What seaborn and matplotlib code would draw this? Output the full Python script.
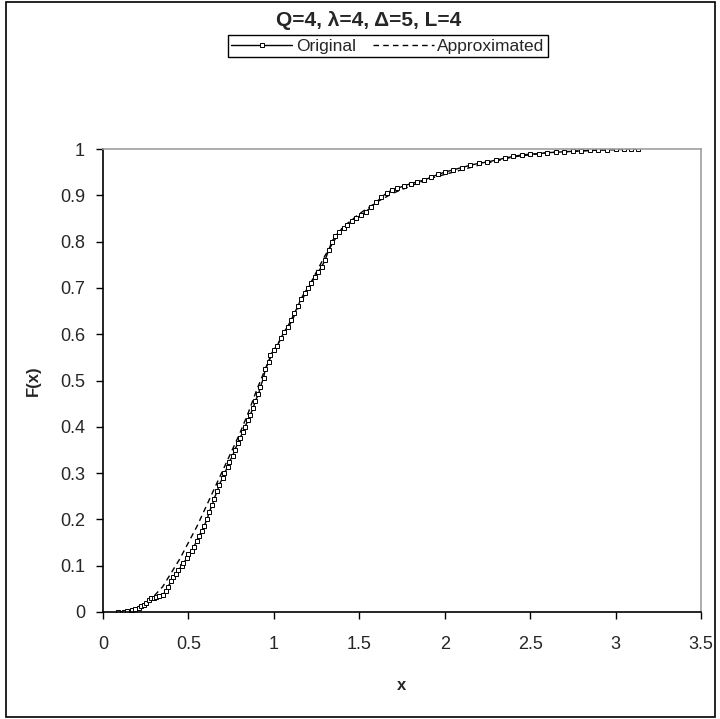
import matplotlib
matplotlib.use('Agg')
import matplotlib.pyplot as plt
import seaborn as sns
import pandas as pd
from matplotlib.patches import Rectangle

# values
orig_x = [0.09, 0.12, 0.14, 0.17, 0.19, 0.21, 0.22, 0.24, 0.25, 0.27, 0.28, 0.30, 0.31, 0.33, 0.35,
          0.37, 0.38, 0.40, 0.41, 0.43, 0.44, 0.46, 0.47, 0.49, 0.50, 0.52, 0.53, 0.55, 0.56, 0.58,
          0.59, 0.61, 0.62, 0.64, 0.65, 0.67, 0.68, 0.70, 0.71, 0.73, 0.74, 0.76, 0.77, 0.79, 0.80,
          0.82, 0.83, 0.85, 0.86, 0.88, 0.89, 0.91, 0.92, 0.94, 0.95, 0.97, 0.98, 1.00, 1.02, 1.04,
          1.06, 1.08, 1.10, 1.12, 1.14, 1.16, 1.18, 1.20, 1.22, 1.24, 1.26, 1.28, 1.30, 1.32, 1.34,
          1.36, 1.38, 1.41, 1.43, 1.46, 1.48, 1.51, 1.54, 1.57, 1.60, 1.63, 1.66, 1.69, 1.72, 1.76,
          1.80, 1.84, 1.88, 1.92, 1.96, 2.00, 2.05, 2.10, 2.15, 2.20, 2.25, 2.30, 2.35, 2.40, 2.45,
          2.50, 2.55, 2.60, 2.65, 2.70, 2.75, 2.80, 2.85, 2.90, 2.95, 3.00, 3.05, 3.09, 3.13]
orig_F = [0.000, 0.001, 0.002, 0.004, 0.006, 0.009, 0.012, 0.016, 0.020, 0.026, 0.030, 0.031, 0.032,
          0.034, 0.037, 0.046, 0.055, 0.066, 0.075, 0.083, 0.090, 0.099, 0.105, 0.116, 0.125, 0.132,
          0.140, 0.154, 0.165, 0.174, 0.185, 0.200, 0.215, 0.231, 0.245, 0.262, 0.275, 0.289, 0.300,
          0.313, 0.325, 0.338, 0.350, 0.364, 0.375, 0.389, 0.400, 0.414, 0.425, 0.441, 0.455, 0.470,
          0.485, 0.506, 0.525, 0.541, 0.555, 0.566, 0.575, 0.591, 0.605, 0.616, 0.630, 0.645, 0.660,
          0.677, 0.690, 0.700, 0.710, 0.724, 0.735, 0.746, 0.760, 0.781, 0.800, 0.812, 0.820, 0.829,
          0.835, 0.845, 0.850, 0.857, 0.865, 0.875, 0.885, 0.896, 0.905, 0.911, 0.915, 0.920, 0.925,
          0.929, 0.933, 0.939, 0.945, 0.950, 0.955, 0.960, 0.965, 0.969, 0.972, 0.976, 0.980, 0.984,
          0.987, 0.989, 0.990, 0.992, 0.993, 0.994, 0.995, 0.996, 0.997, 0.998, 0.998, 0.999, 0.999,
          1.000, 1.000]

approx_x = [0.10, 0.18, 0.25, 0.30, 0.35, 0.40, 0.45, 0.50, 0.55, 0.60, 0.65, 0.70, 0.75, 0.80, 0.85,
            0.90, 0.95, 1.00, 1.10, 1.20, 1.30, 1.40, 1.50, 1.60, 1.70, 1.80, 1.90, 2.00, 2.20, 2.40,
            2.60, 2.80, 3.00, 3.13]
approx_F = [0.000, 0.006, 0.020, 0.035, 0.055, 0.085, 0.115, 0.150, 0.185, 0.225, 0.265, 0.305, 0.345,
            0.385, 0.430, 0.480, 0.525, 0.565, 0.625, 0.700, 0.770, 0.830, 0.860, 0.885, 0.905, 0.920,
            0.935, 0.945, 0.965, 0.983, 0.992, 0.996, 0.999, 1.000]

title = 'Q=4, \u03bb=4, \u0394=5, L=4'
x_ticks = [0, 0.5, 1, 1.5, 2, 2.5, 3, 3.5]
y_ticks = [0, 0.1, 0.2, 0.3, 0.4, 0.5, 0.6, 0.7, 0.8, 0.9, 1]

sns.set_style('white')
plt.rcParams['font.family'] = ['Liberation Sans', 'DejaVu Sans']

df_orig = pd.DataFrame({'x': orig_x, 'F': orig_F})
df_appr = pd.DataFrame({'x': approx_x, 'F': approx_F})

fig = plt.figure(figsize=(7.2, 7.19), dpi=100)
ax = fig.add_axes([103 / 720, 1 - 612 / 719, 598 / 720, 463 / 719])

sns.lineplot(data=df_appr, x='x', y='F', ax=ax, color='black', lw=1.0, dashes=(4, 3),
             label='Approximated', sort=False)
sns.lineplot(data=df_orig, x='x', y='F', ax=ax, color='black', lw=1.0, marker='s',
             markersize=3.2, markerfacecolor='white', markeredgecolor='black',
             markeredgewidth=0.7, label='Original', sort=False)

ax.set_xlim(0, 3.5)
ax.set_ylim(0, 1)
ax.set_xticks(x_ticks)
ax.set_xticklabels([f'{t:g}' for t in x_ticks])
ax.set_yticks(y_ticks)
ax.set_yticklabels([f'{t:g}' for t in y_ticks])
ax.tick_params(axis='both', direction='out', length=5, width=1, color='black',
               labelsize=13, pad=8)
ax.tick_params(axis='x', pad=12, bottom=True)
ax.tick_params(axis='y', left=True)
for s in ['left', 'bottom']:
    ax.spines[s].set_color('black')
    ax.spines[s].set_linewidth(1.2)
for s in ['top', 'right']:
    ax.spines[s].set_color('#a0a0a0')
    ax.spines[s].set_linewidth(1.2)

ax.set_xlabel('x', fontsize=12, fontweight='bold', labelpad=18)
ax.set_ylabel('F(x)', fontsize=12, fontweight='bold', labelpad=14)

handles, labels = ax.get_legend_handles_labels()
ax.get_legend().remove()
fig.legend(handles[::-1], labels[::-1], loc='center', bbox_to_anchor=(388 / 720, 1 - 46 / 719),
           ncol=2, frameon=True, fancybox=False, edgecolor='black', framealpha=1, fontsize=12.5,
           handlelength=3.5, handletextpad=0.2, columnspacing=1.0, borderpad=0.2,
           borderaxespad=0)

fig.suptitle(title, x=369 / 720, y=1 - 20 / 719, va='center', fontsize=15, fontweight='bold')

fig.patches.append(Rectangle((6 / 720, 2 / 719), 709 / 720, 715 / 719, transform=fig.transFigure,
                             fill=False, edgecolor='black', lw=1.2))

fig.savefig('out.png', dpi=100)
